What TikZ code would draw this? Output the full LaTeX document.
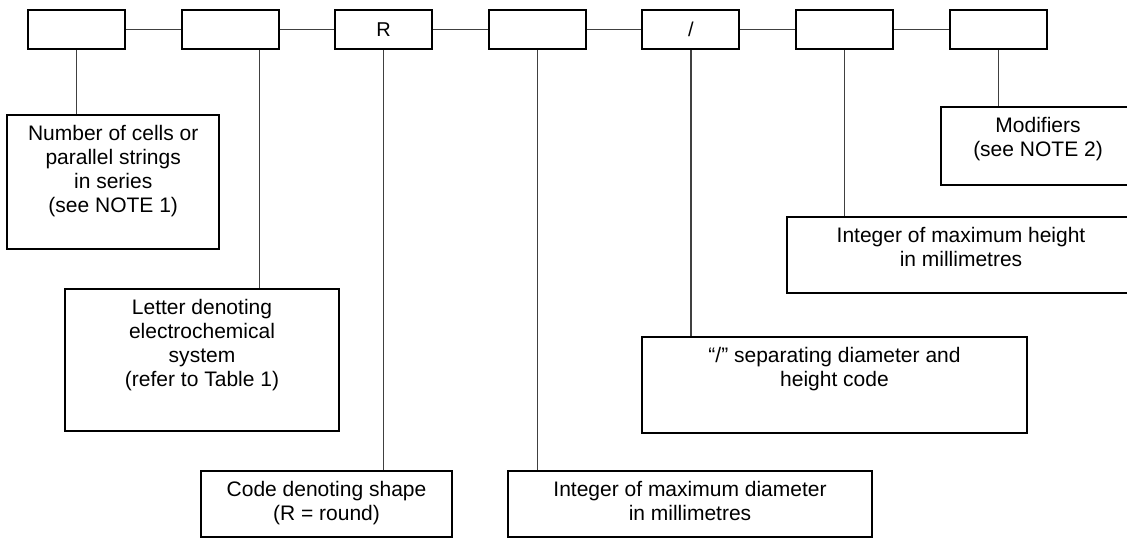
\documentclass[tikz,border=0pt]{standalone}
\usepackage{fontspec}
\setmainfont{Liberation Sans}
\usetikzlibrary{positioning}

\begin{document}
\begin{tikzpicture}[
        x=0.5pt, y=-0.5pt,
        codebox/.style={rectangle, draw, line width=1pt, minimum width=48.5pt, minimum height=19.5pt, inner sep=0pt, font=\fontsize{10}{12}\selectfont},
        notebox/.style={rectangle, draw, line width=1pt, inner sep=0pt},
        note/.style={label={[anchor=north, align=center, inner sep=5.5pt, font=\fontsize{10.5}{12}\selectfont]north:#1}},
        link/.style={line width=0.6pt, black!75}
    ]
        \useasboundingbox (0,0) rectangle (1127,538);

        % Code boxes - one row at the top
        \node[codebox] (cells) at (76.5, 29.5) {};
        \node[codebox] (system) at (230.1, 29.5) {};
        \node[codebox] (shape) at (383.7, 29.5) {R};
        \node[codebox] (dia) at (537.3, 29.5) {};
        \node[codebox] (slash) at (690.9, 29.5) {/};
        \node[codebox] (height) at (844.5, 29.5) {};
        \node[codebox] (modif) at (998.1, 29.5) {};

        % Explanation boxes
        \node[notebox, minimum width=105.9pt, minimum height=67pt,
            note={Number of cells or\\parallel strings\\in series\\(see NOTE 1)}] (cellstxt) at (113.2, 182) {};
        \node[notebox, minimum width=137pt, minimum height=71pt,
            note={Letter denoting\\electrochemical\\system\\(refer to Table 1)}] (systemtxt) at (202, 360) {};
        \node[notebox, minimum width=125.5pt, minimum height=33pt,
            note={Code denoting shape\\(R = round)}] (shapetxt) at (326.5, 504) {};
        \node[notebox, minimum width=182pt, minimum height=33pt,
            note={Integer of maximum diameter\\in millimetres}] (diatxt) at (690, 504) {};
        \node[notebox, minimum width=192.5pt, minimum height=48pt,
            note={“/” separating diameter and\\height code}] (slashtxt) at (834.5, 385) {};
        \node[notebox, minimum width=174pt, minimum height=38pt,
            note={Integer of maximum height\\in millimetres}] (heighttxt) at (961, 255) {};
        \node[notebox, minimum width=97pt, minimum height=39pt,
            note={Modifiers\\(see NOTE 2)}] (modiftxt) at (1038, 146) {};

        % Row links between code boxes
        \foreach \a/\b in {cells/system, system/shape, shape/dia, dia/slash, slash/height, height/modif} {
            \draw[link] (\a) -- (\b);
        }

        % Drops from code boxes to explanations
        \coordinate (systap) at ([xshift=14.5pt]system.south);
        \draw[link] (cells) -- (cells |- cellstxt.north);
        \draw[link] (systap) -- (systap |- systemtxt.north);
        \draw[link] (shape) -- (shape |- shapetxt.north);
        \draw[link] (dia) -- (dia |- diatxt.north);
        \draw[link] (slash) -- (slash |- slashtxt.north);
        \draw[link] (height) -- (height |- heighttxt.north);
        \draw[link] (modif) -- (modif |- modiftxt.north);
    \end{tikzpicture}
\end{document}
